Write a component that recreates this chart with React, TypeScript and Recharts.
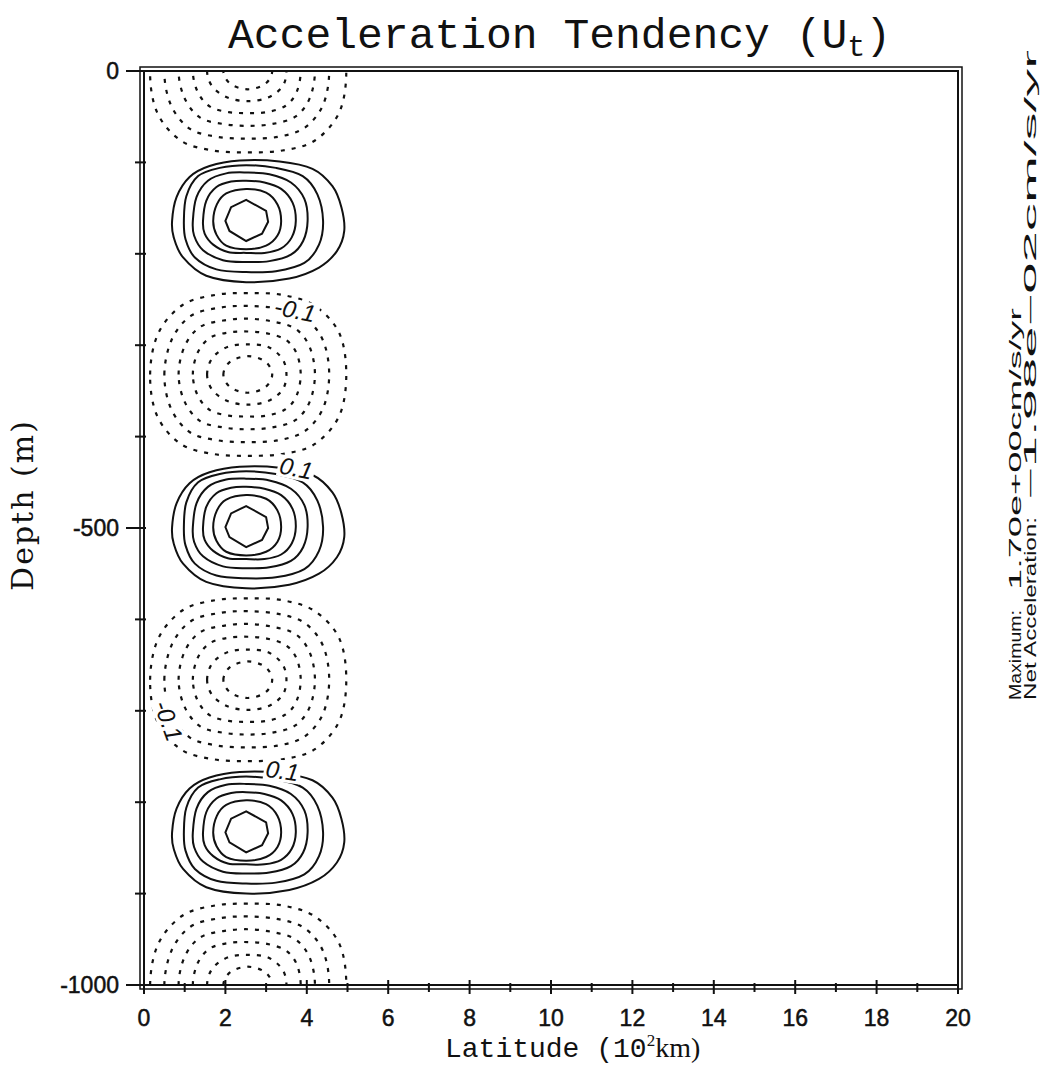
import { ComposedChart, Line, Scatter, XAxis, YAxis, ReferenceArea } from 'recharts';

type Pt = [number, number];

const latTicks = [0, 1, 2, 3, 4, 5, 6, 7, 8, 9, 10, 11, 12, 13, 14, 15, 16, 17, 18, 19, 20];
const depthTicks = [0, -100, -200, -300, -400, -500, -600, -700, -800, -900, -1000];

// depth (m) of the middle of each cell
const positiveCentres = [-164, -499, -833];
const negativeCentres = [0, -332, -666, -1000];

// contours of a positive cell, outer to inner: [latitude, depth offset from centre]
const positiveRings: Pt[][] = [
  [[0.69, 0], [0.8, 26], [1.12, 48], [1.61, 60], [2.35, 66], [3.33, 65], [4.14, 57], [4.63, 38], [4.85, 15], [4.92, -11], [4.74, -33], [4.3, -51], [3.57, -63], [2.51, -67], [1.53, -60], [0.96, -40], [0.73, -18]],
  [[0.98, 0], [1.04, 27], [1.33, 49], [1.86, 58], [2.51, 61], [3.24, 58], [3.9, 49], [4.26, 29], [4.4, 0], [4.3, -26], [3.94, -46], [3.24, -55], [2.51, -56], [1.78, -53], [1.25, -40], [1.02, -20]],
  [[1.2, 0], [1.29, 26], [1.57, 44], [2.02, 52], [2.51, 53], [3.08, 51], [3.61, 42], [3.94, 24], [4.02, 0], [3.91, -22], [3.61, -37], [3.08, -44], [2.51, -45], [1.94, -43], [1.45, -32], [1.23, -16]],
  [[1.45, 0], [1.53, 22], [1.78, 37], [2.14, 43], [2.51, 44], [2.96, 42], [3.37, 35], [3.65, 20], [3.73, 0], [3.63, -18], [3.37, -30], [2.96, -35], [2.51, -35], [2.06, -34], [1.7, -26], [1.49, -14]],
  [[1.7, 0], [1.79, 18], [2.02, 30], [2.51, 35], [3.0, 31], [3.28, 18], [3.37, 0], [3.28, -16], [3.0, -27], [2.51, -31], [2.02, -27], [1.78, -15]],
  [[2.0, 0], [2.14, 15], [2.51, 23], [3.0, 11], [3.05, -1], [2.9, -14], [2.51, -22], [2.1, -11]],
];

// contours of a negative cell (dashed), outer to inner
const negativeRings: Pt[][] = [
  [[0.15, 0], [0.35, 45], [0.95, 76], [1.75, 87], [2.55, 89], [3.4, 87], [4.2, 75], [4.8, 45], [4.97, 0], [4.8, -45], [4.2, -76], [3.4, -87], [2.55, -89], [1.7, -87], [0.9, -76], [0.32, -45]],
  [[0.5, 0], [0.68, 38], [1.15, 64], [1.85, 73], [2.55, 75], [3.3, 72], [3.95, 62], [4.4, 37], [4.55, 0], [4.4, -37], [3.95, -62], [3.3, -72], [2.55, -74], [1.8, -72], [1.12, -63], [0.66, -37]],
  [[0.85, 0], [1.0, 31], [1.38, 52], [1.95, 59], [2.55, 61], [3.15, 58], [3.72, 50], [4.07, 30], [4.2, 0], [4.07, -30], [3.72, -50], [3.15, -58], [2.55, -60], [1.95, -58], [1.38, -51], [1.0, -30]],
  [[1.2, 0], [1.32, 24], [1.62, 40], [2.08, 46], [2.55, 47], [3.02, 45], [3.48, 38], [3.75, 23], [3.85, 0], [3.75, -23], [3.48, -38], [3.02, -45], [2.55, -46], [2.08, -45], [1.62, -39], [1.32, -23]],
  [[1.55, 0], [1.68, 18], [2.05, 30], [2.55, 33], [3.05, 30], [3.4, 17], [3.5, 0], [3.4, -17], [3.05, -29], [2.55, -33], [2.05, -29], [1.68, -17]],
  [[1.95, 0], [2.12, 14], [2.55, 20], [2.98, 14], [3.15, 0], [2.98, -14], [2.55, -20], [2.12, -14]],
];

const contourLabels = [
  { lat: 3.71, depth: -262, text: '-0.1', angle: 12 },
  { lat: 3.74, depth: -435, text: '0.1', angle: 12 },
  { lat: 3.4, depth: -766, text: '0.1', angle: 8 },
  { lat: 0.59, depth: -711, text: '-0.1', angle: 70 },
];

const toSeries = (centre: number, ring: Pt[]) => ring.map(([lat, dz]) => ({ lat, depth: centre + dz }));

// closed Catmull-Rom curve, so each contour comes back smoothly on itself
const closedCurve = (context: any) => {
  let pts: Pt[] = [];
  return {
    areaStart() {},
    areaEnd() {},
    lineStart() {
      pts = [];
    },
    point(x: number, y: number) {
      pts.push([x, y]);
    },
    lineEnd() {
      const n = pts.length;
      if (!n) return;
      context.moveTo(pts[0][0], pts[0][1]);
      for (let i = 0; i < n; i++) {
        const p0 = pts[(i - 1 + n) % n];
        const p1 = pts[i];
        const p2 = pts[(i + 1) % n];
        const p3 = pts[(i + 2) % n];
        context.bezierCurveTo(
          p1[0] + (p2[0] - p0[0]) / 6,
          p1[1] + (p2[1] - p0[1]) / 6,
          p2[0] - (p3[0] - p1[0]) / 6,
          p2[1] - (p3[1] - p1[1]) / 6,
          p2[0],
          p2[1]
        );
      }
      context.closePath();
    },
  };
};

const closedPolygon = (context: any) => {
  let first = true;
  return {
    areaStart() {},
    areaEnd() {},
    lineStart() {
      first = true;
    },
    point(x: number, y: number) {
      if (first) context.moveTo(x, y);
      else context.lineTo(x, y);
      first = false;
    },
    lineEnd() {
      context.closePath();
    },
  };
};

const LatTick = (props: any) => {
  const { x, y, payload } = props;
  const v = payload.value as number;
  const major = v % 2 === 0;
  return (
    <g>
      <line x1={x} x2={x} y1={major ? y - 5 : y - 2} y2={major ? y + 9 : y + 7} stroke='#111' strokeWidth={2} />
      {major && (
        <text x={x} y={y + 41} textAnchor='middle' fontFamily='Liberation Sans' fontSize={23} fill='#111' stroke='#111' strokeWidth={0.5}>
          {v}
        </text>
      )}
    </g>
  );
};

const DepthTick = (props: any) => {
  const { x, y, payload } = props;
  const v = payload.value as number;
  const major = v % 500 === 0;
  return (
    <g>
      <line x1={major ? x - 18 : x - 9} x2={x + 2} y1={y} y2={y} stroke='#111' strokeWidth={2} />
      {major && (
        <text x={x - 25} y={y + 8} textAnchor='end' fontFamily='Liberation Sans' fontSize={23} fill='#111' stroke='#111' strokeWidth={0.5}>
          {v}
        </text>
      )}
    </g>
  );
};

const Frame = (props: any) => {
  const { x, y, width, height } = props;
  return (
    <g fill='none' stroke='#111'>
      <rect x={x} y={y} width={width} height={height} strokeWidth={2} />
      <rect x={x - 4} y={y - 4} width={width + 8} height={height + 8} strokeWidth={1.5} />
    </g>
  );
};

const ContourLabel = (props: any) => {
  const { cx, cy, payload } = props;
  const w = payload.text.length * 11 + 4;
  return (
    <g transform={`translate(${cx},${cy}) rotate(${payload.angle})`}>
      <rect x={-w / 2} y={-11} width={w} height={22} fill='#fff' />
      <text textAnchor='middle' y={8} fontFamily='Liberation Sans' fontStyle='italic' fontSize={24} fill='#111'>
        {payload.text}
      </text>
    </g>
  );
};

export default function App() {
  return (
    <div style={{ position: 'absolute', left: 0, top: 0, width: 1040, height: 1065, background: '#fff' }}>
      <ComposedChart width={1040} height={1065} margin={{ top: 71, right: 82, bottom: 40, left: 84 }}>
        <XAxis
          type='number'
          dataKey='lat'
          domain={[0, 20]}
          ticks={latTicks}
          interval={0}
          tick={<LatTick />}
          tickLine={false}
          axisLine={false}
          tickSize={0}
          tickMargin={0}
          height={40}
        />
        <YAxis
          type='number'
          dataKey='depth'
          domain={[-1000, 0]}
          allowDataOverflow
          ticks={depthTicks}
          interval={0}
          tick={<DepthTick />}
          tickLine={false}
          axisLine={false}
          tickSize={0}
          tickMargin={0}
          width={60}
        />
        <ReferenceArea x1={0} x2={20} y1={-1000} y2={0} shape={<Frame />} ifOverflow='visible' />
        {negativeCentres.map((c, i) =>
          negativeRings.map((ring, j) => (
            <Line
              key={`n${i}-${j}`}
              data={toSeries(c, ring)}
              dataKey='depth'
              type={closedCurve as any}
              stroke='#111'
              strokeWidth={2.2}
              strokeDasharray='4 7'
              dot={false}
              activeDot={false}
              legendType='none'
              isAnimationActive={false}
            />
          ))
        )}
        {positiveCentres.map((c, i) =>
          positiveRings.map((ring, j) => (
            <Line
              key={`p${i}-${j}`}
              data={toSeries(c, ring)}
              dataKey='depth'
              type={(j === positiveRings.length - 1 ? closedPolygon : closedCurve) as any}
              stroke='#111'
              strokeWidth={2}
              dot={false}
              activeDot={false}
              legendType='none'
              isAnimationActive={false}
            />
          ))
        )}
        <Scatter data={contourLabels} dataKey='depth' shape={<ContourLabel />} isAnimationActive={false} />
      </ComposedChart>
      <svg width={1040} height={1065} style={{ position: 'absolute', left: 0, top: 0, pointerEvents: 'none' }}>
        <text x={228} y={48} fontFamily='Liberation Mono' fontSize={43} fill='#111'>
          Acceleration Tendency (U
          <tspan fontSize={30} dy={8}>t</tspan>
          <tspan dy={-8}>)</tspan>
        </text>
        <text transform='translate(33,505) rotate(-90)' textAnchor='middle' fontFamily='DejaVu Serif' fontSize={30} letterSpacing={2} fill='#111'>
          Depth (m)
        </text>
        <text x={445} y={1057} fontFamily='Liberation Mono' fontSize={28} fill='#111'>
          Latitude (10
          <tspan fontFamily='Liberation Serif' fontSize={17} dy={-11}>2</tspan>
          <tspan fontFamily='Liberation Serif' dy={11}>km)</tspan>
        </text>
        <g fontFamily='Liberation Sans' fontSize={16} fill='#111'>
          <text transform='translate(1021,700) rotate(-90)' textLength={90} lengthAdjust='spacingAndGlyphs'>
            Maximum:
          </text>
          <text transform='translate(1021,590) rotate(-90)' textLength={282} lengthAdjust='spacingAndGlyphs'>
            1.70e+00cm/s/yr
          </text>
          <text transform='translate(1036,700) rotate(-90)' textLength={183} lengthAdjust='spacingAndGlyphs'>
            Net Acceleration:
          </text>
          <text transform='translate(1036,500) rotate(-90)' textLength={450} lengthAdjust='spacingAndGlyphs'>
            −1.98e−02cm/s/yr
          </text>
        </g>
      </svg>
    </div>
  );
}
